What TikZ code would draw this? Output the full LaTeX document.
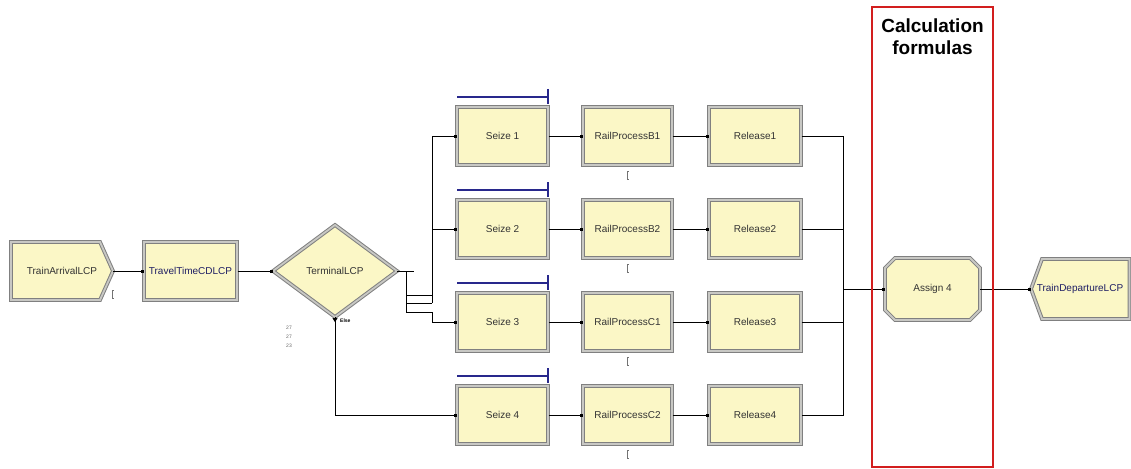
\documentclass[tikz,border=0pt]{standalone}
\usepackage{fontspec}
\setmainfont{Liberation Sans}
\usetikzlibrary{arrows.meta}
\definecolor{modfill}{RGB}{251,247,198}
\definecolor{frameout}{RGB}{128,128,128}
\definecolor{framein}{RGB}{200,200,196}
\definecolor{resblue}{RGB}{40,40,140}
\definecolor{navytext}{RGB}{30,30,100}
\definecolor{redbox}{RGB}{210,30,30}
\tikzset{
  module/.style={draw=frameout, double=framein, double distance=1.8pt, line width=1pt, fill=modfill},
  boxmod/.style={module, minimum width=#1, minimum height=58pt, inner sep=0pt, font=\fontsize{10}{12}\selectfont, text=black!80},
  lbl/.style={inner sep=0pt, font=\fontsize{10}{12}\selectfont, text=black!80},
  conn/.style={draw=black, line width=0.8pt, -{Square[length=2.6pt,width=2.6pt]}},
  wire/.style={draw=black, line width=0.8pt},
  resline/.style={draw=resblue, line width=1.2pt},
  tick/.style={draw=black!55, line width=0.6pt},
  title/.style={font=\fontsize{19}{22}\selectfont\bfseries, inner sep=0pt, anchor=base}
}
\begin{document}
\begin{tikzpicture}[x=1pt,y=-1pt]
\useasboundingbox (0,0) rectangle (1131,468);

% Create module
\draw[module] (11,242) -- (100,242) -- (113,271) -- (100,300) -- (11,300) -- cycle;
\node[lbl, minimum width=102pt, minimum height=58pt] (arr) at (62,271) {TrainArrivalLCP};
\draw[tick] (112,290) -- (112,298) (112,290) -- (114,290) (112,298) -- (114,298);

% Travel time
\node[boxmod=93pt, text=navytext] (trv) at (190.5,271) {TravelTimeCDLCP};

% Decision
\draw[module] (273,271) -- (335,225) -- (397,271) -- (335,317) -- cycle;
\node[lbl, minimum width=124pt, minimum height=92pt] (dec) at (335,271) {TerminalLCP};
\node[font=\fontsize{5}{5.5}\selectfont\bfseries, inner sep=0pt, anchor=west] (elsel) at (340,321) {Else};
\node[font=\fontsize{5}{9}\selectfont, text=black!60, inner sep=0pt, align=center] (cnt) at (289,337) {27\\27\\23};

% Rows
\foreach \r/\y/\p in {1/136/B1,2/229/B2,3/322/C1,4/415/C2}{
  \node[boxmod=91pt] (s\r) at (502.5,\y) {Seize \r};
  \node[boxmod=89pt] (p\r) at (627.5,\y) {RailProcess\p};
  \node[boxmod=92pt] (r\r) at (755,\y) {Release\r};
  \draw[resline] (457,\y-39) -- (548,\y-39);
  \draw[resline] (548,\y-47) -- (548,\y-32);
  \draw[tick] (627,\y+35) -- (627,\y+43) (627,\y+35) -- (629,\y+35) (627,\y+43) -- (629,\y+43);
  \draw[conn] (s\r.east) -- (p\r.west);
  \draw[conn] (p\r.east) -- (r\r.west);
}

% Assign
\draw[module] (895,258) -- (970,258) -- (980,268) -- (980,310) -- (970,320) -- (895,320) -- (885,310) -- (885,268) -- cycle;
\node[lbl, minimum width=95pt, minimum height=62pt] (asg) at (932.5,289) {Assign 4};

% Dispose
\draw[module] (1042,259) -- (1129.5,259) -- (1129.5,319) -- (1042,319) -- (1031,289) -- cycle;
\node[lbl, text=navytext, minimum width=98pt, minimum height=60pt] (dep) at (1080,289) {TrainDepartureLCP};

% Connectors
\draw[conn] (arr.east) -- (trv.west);
\draw[conn] (trv.east) -- (dec.west);

\coordinate (dxe) at (414,271);
\coordinate (dv1) at (406,271);
\coordinate (dv2) at (406,313);
\coordinate (b1) at (406,295);
\coordinate (b2) at (406,303);
\coordinate (b3) at (406,312);
\coordinate (c1) at (432,295);
\coordinate (c2) at (432,303);
\coordinate (c3) at (432,312);
\coordinate (c4) at (432,229);
\draw[wire] (dec.east) -- (dxe);
\draw[wire] (dv1) -- (dv2);
\draw[wire] (b1) -- (c1);
\draw[wire] (b2) -- (c2);
\draw[conn] (c2) |- (s1.west);
\draw[conn] (c4) -- (s2.west);
\draw[wire] (b3) -- (c3);
\draw[conn] (c3) |- (s3.west);
\draw[conn] (dec.south) |- (s4.west);
\fill (dec.south) ++(-2.5,1) -- ++(5,0) -- ++(-2.5,4) -- cycle;

\coordinate (m1) at (843,136);
\coordinate (m4) at (843,415);
\coordinate (mm) at (843,289);
\draw[wire] (r1.east) -- (m1) -- (m4) -- (r4.east);
\draw[wire] (r2.east) -- (843,229);
\draw[wire] (r3.east) -- (843,322);
\draw[conn] (mm) -- (asg.west);
\draw[conn] (asg.east) -- (dep.west);

% Red frame and title
\draw[draw=redbox, line width=1.8pt] (872,7) rectangle (993,467);
\node[title] (t1) at (932.5,33) {Calculation};
\node[title] (t2) at (932.5,55) {formulas};
\end{tikzpicture}
\end{document}
